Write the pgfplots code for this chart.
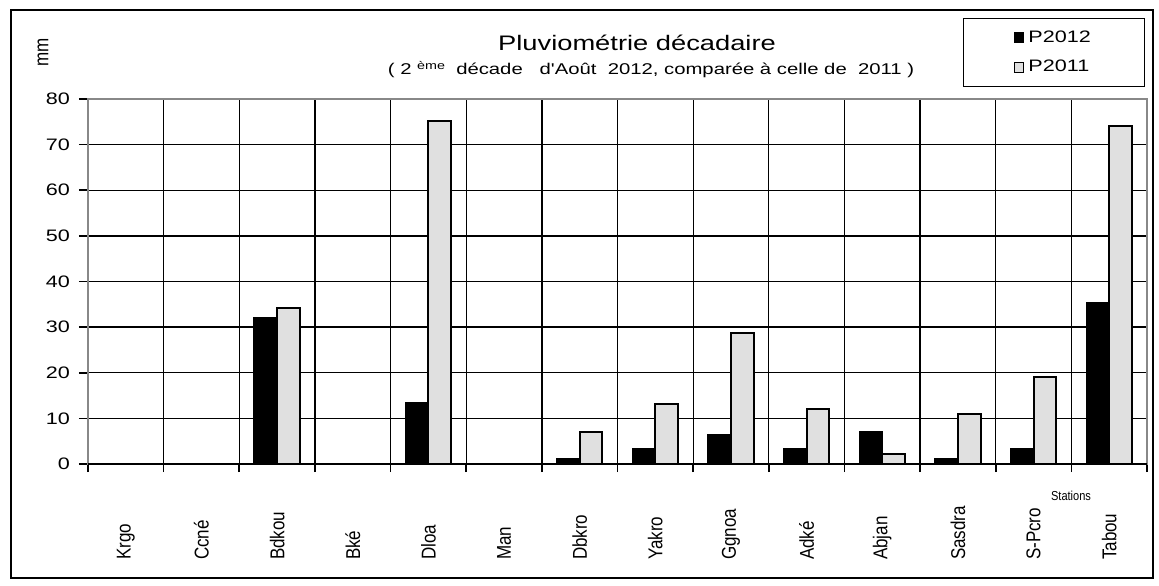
\documentclass[border=0pt]{standalone}
\usepackage{fontspec}
\setmainfont{Liberation Sans}
\newfontfamily\wide{Liberation Sans}[FakeStretch=1.3]
\newfontfamily\narrow{Liberation Sans}[FakeStretch=0.85]
\usepackage{pgfplots}
\pgfplotsset{compat=1.18}
\usepackage{pgfplotstable}
\definecolor{barlight}{HTML}{E0E0E0}
\definecolor{frameg}{HTML}{888888}
\pgfplotstableread{
x p2012 p2011
1 0 0
2 0 0
3 32 34.2
4 0 0
5 13.3 75.2
6 0 0
7 1.2 7.1
8 3.3 13.2
9 6.4 28.8
10 3.3 12.1
11 7.1 2.2
12 1.1 11
13 3.2 19.1
14 35.3 74.1
}\datatable
\begin{document}
\begin{tikzpicture}
\path (-44pt,-60.5pt) rectangle (535.5pt,232pt);
\draw[line width=0.7pt] (-38.5pt,-57pt) rectangle (532.5pt,227pt);
\begin{axis}[
  at={(0,0)}, anchor=south west,
  scale only axis, width=529.5pt, height=182.5pt,
  xmin=0.5, xmax=14.5, ymin=0, ymax=80,
  ytick={0,10,...,80},
  xtick={1,...,14},
  xticklabels={Krgo,Ccné,Bdkou,Bké,Dloa,Man,Dbkro,Yakro,Ggnoa,Adké,Abjan,Sasdra,S-Pcro,Tabou},
  tick pos=left,
  major x tick style={draw=none},
  minor xtick={0.5,1.5,...,14.5},
  minor x tick style={draw=black, line width=0.8pt},
  minor tick length=4pt,
  xminorgrids,
  minor grid style={black, line width=0.65pt},
  ymajorgrids,
  major grid style={black, line width=0.65pt},
  tick align=outside,
  ytick style={draw=black, line width=0.8pt},
  major tick length=4.5pt,
  axis line style={draw=frameg, line width=1.1pt},
  /pgf/number format/assume math mode=true,
  yticklabel style={font=\wide\fontsize{8.3}{10}\selectfont, xshift=-1pt},
  xticklabel style={font=\narrow\fontsize{10}{12}\selectfont, yshift=-47pt, rotate=90, anchor=west},
  ybar, bar width=0.3,
  legend style={at={(0.8263,1.222)}, anchor=north west, draw=black, line width=0.6pt,
    font=\wide\fontsize{8.3}{10}\selectfont, inner xsep=25pt, inner ysep=4pt, row sep=3.5pt,
    cells={anchor=west}},
  legend image code/.code={\draw[#1, line width=0.6pt] (0pt,-2.4pt) rectangle (4.8pt,2.4pt);},
]
\addplot[fill=black, draw=black, line width=1pt, bar shift=-0.15] table[x=x, y=p2012] {\datatable};
\addlegendentry{P2012}
\addplot[fill=barlight, draw=black, line width=1pt, bar shift=0.15] table[x=x, y=p2011] {\datatable};
\addlegendentry{P2011}
\draw[black, line width=1.2pt] (rel axis cs:0,0) -- (rel axis cs:1,0);
\end{axis}
\node[font=\wide\fontsize{10.5}{12}\selectfont] at (274.5pt,210.5pt) {Pluviométrie décadaire};
\node[font=\wide\fontsize{7.8}{9}\selectfont] at (281.5pt,197pt) {( 2 \raisebox{0.6ex}{\fontsize{5.5}{6}\selectfont ème}\ \ décade \ \ d'Août \ 2012, comparée à celle de \ 2011 )};
\node[font=\narrow\fontsize{10}{11}\selectfont, rotate=90] at (-22.5pt,206pt) {mm};
\node[font=\narrow\fontsize{6.5}{8}\selectfont] at (491.5pt,-16pt) {Stations};
\end{tikzpicture}
\end{document}
